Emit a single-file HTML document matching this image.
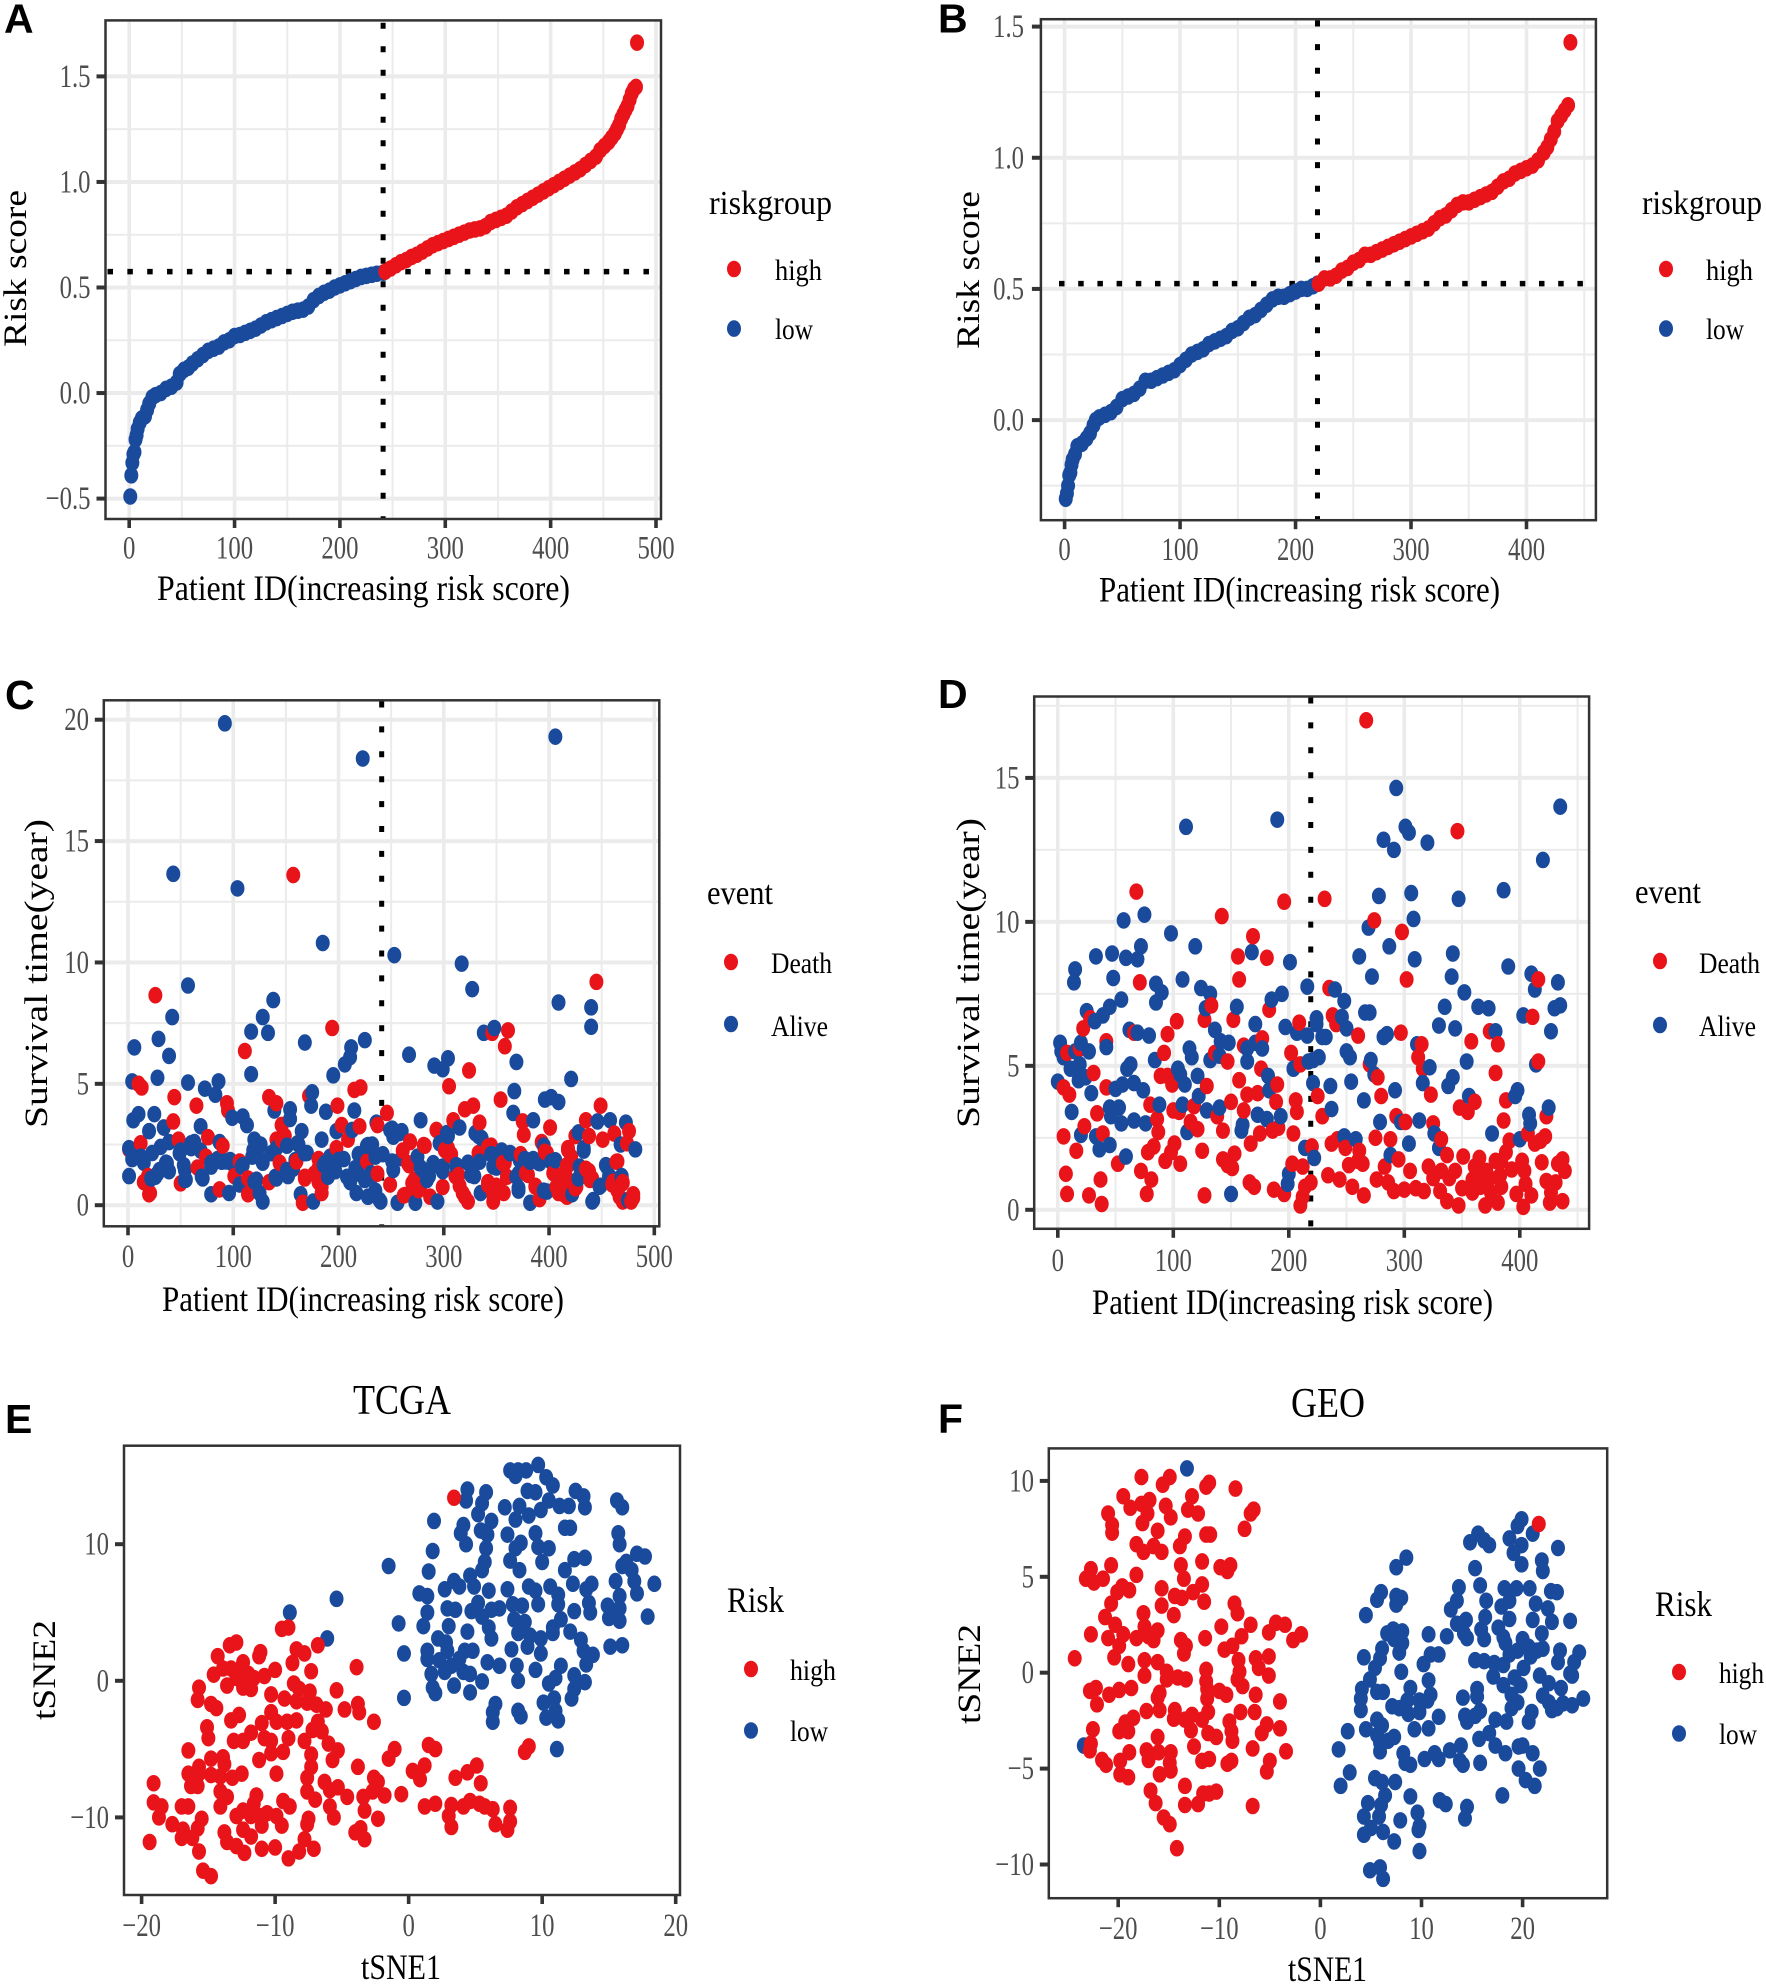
<!DOCTYPE html>
<html lang="en">
<head>
<meta charset="utf-8">
<title>Risk score, survival and tSNE panels</title>
<style>
html,body{margin:0;padding:0;background:#fff;}
svg{display:block;}
text{font-family:"Liberation Serif",serif;}
.letter{font-family:"Liberation Sans",sans-serif;font-weight:700;font-size:41px;fill:#000;}
.axt{font-size:36px;fill:#000;}
.leg{font-size:30px;fill:#000;}
.legt{font-size:34px;fill:#000;}
</style>
</head>
<body>
<svg id="figure" xmlns="http://www.w3.org/2000/svg" width="1766" height="1985" viewBox="0 0 1766 1985">
<rect x="0" y="0" width="1766" height="1985" fill="#fff"/>
<g id="plots"></g>

<text class="letter" x="4" y="32.5">A</text>
<text class="letter" x="938" y="32.5">B</text>
<text class="letter" x="5" y="709">C</text>
<text class="letter" x="938" y="708">D</text>
<text class="letter" x="5" y="1433">E</text>
<text class="letter" x="938" y="1433">F</text>

<text class="axt" x="157" y="600" textLength="413" lengthAdjust="spacingAndGlyphs">Patient ID(increasing risk score)</text>
<text class="axt" transform="translate(26,347) rotate(-90)" textLength="157" lengthAdjust="spacingAndGlyphs" style="font-size:33px">Risk score</text>
<text class="legt" x="709" y="214" textLength="123" lengthAdjust="spacingAndGlyphs">riskgroup</text>
<ellipse cx="734" cy="269" rx="7" ry="8.3" fill="#e8141a"/>
<text class="leg" x="775" y="280" textLength="47" lengthAdjust="spacingAndGlyphs">high</text>
<ellipse cx="734" cy="328.6" rx="7" ry="8.3" fill="#1a4a9c"/>
<text class="leg" x="775" y="339" textLength="38" lengthAdjust="spacingAndGlyphs">low</text>

<text class="axt" x="1099" y="601.5" textLength="401" lengthAdjust="spacingAndGlyphs">Patient ID(increasing risk score)</text>
<text class="axt" transform="translate(979,349) rotate(-90)" textLength="158" lengthAdjust="spacingAndGlyphs" style="font-size:33px">Risk score</text>
<text class="legt" x="1642" y="214" textLength="120" lengthAdjust="spacingAndGlyphs">riskgroup</text>
<ellipse cx="1666" cy="269" rx="7" ry="8.3" fill="#e8141a"/>
<text class="leg" x="1706" y="280" textLength="47" lengthAdjust="spacingAndGlyphs">high</text>
<ellipse cx="1666" cy="328.6" rx="7" ry="8.3" fill="#1a4a9c"/>
<text class="leg" x="1706" y="339" textLength="38" lengthAdjust="spacingAndGlyphs">low</text>

<text class="axt" x="162" y="1311" textLength="402" lengthAdjust="spacingAndGlyphs">Patient ID(increasing risk score)</text>
<text class="axt" transform="translate(47,1128) rotate(-90)" textLength="309" lengthAdjust="spacingAndGlyphs" style="font-size:33px">Survival time(year)</text>
<text class="legt" x="707" y="904" textLength="66" lengthAdjust="spacingAndGlyphs">event</text>
<ellipse cx="731" cy="962" rx="7" ry="8.3" fill="#e8141a"/>
<text class="leg" x="771" y="973" textLength="61" lengthAdjust="spacingAndGlyphs">Death</text>
<ellipse cx="731" cy="1024" rx="7" ry="8.3" fill="#1a4a9c"/>
<text class="leg" x="771" y="1036" textLength="57" lengthAdjust="spacingAndGlyphs">Alive</text>

<text class="axt" x="1092" y="1314" textLength="401" lengthAdjust="spacingAndGlyphs">Patient ID(increasing risk score)</text>
<text class="axt" transform="translate(979,1128) rotate(-90)" textLength="310" lengthAdjust="spacingAndGlyphs" style="font-size:33px">Survival time(year)</text>
<text class="legt" x="1635" y="903" textLength="66" lengthAdjust="spacingAndGlyphs">event</text>
<ellipse cx="1660" cy="961" rx="7" ry="8.3" fill="#e8141a"/>
<text class="leg" x="1699" y="973" textLength="61" lengthAdjust="spacingAndGlyphs">Death</text>
<ellipse cx="1660" cy="1025" rx="7" ry="8.3" fill="#1a4a9c"/>
<text class="leg" x="1699" y="1036" textLength="57" lengthAdjust="spacingAndGlyphs">Alive</text>

<text x="353" y="1414" textLength="98" lengthAdjust="spacingAndGlyphs" style="font-size:42px;fill:#000">TCGA</text>
<text class="axt" x="361" y="1979" textLength="80" lengthAdjust="spacingAndGlyphs">tSNE1</text>
<text class="axt" transform="translate(55,1720) rotate(-90)" textLength="100" lengthAdjust="spacingAndGlyphs" style="font-size:33px">tSNE2</text>
<text class="axt" x="727" y="1612" textLength="57" lengthAdjust="spacingAndGlyphs">Risk</text>
<ellipse cx="751" cy="1669" rx="7" ry="8.3" fill="#e8141a"/>
<text class="leg" x="790" y="1680" textLength="46" lengthAdjust="spacingAndGlyphs">high</text>
<ellipse cx="751" cy="1730.5" rx="7" ry="8.3" fill="#1a4a9c"/>
<text class="leg" x="790" y="1741" textLength="38" lengthAdjust="spacingAndGlyphs">low</text>

<text x="1291" y="1417" textLength="74" lengthAdjust="spacingAndGlyphs" style="font-size:42px;fill:#000">GEO</text>
<text class="axt" x="1288" y="1981" textLength="79" lengthAdjust="spacingAndGlyphs">tSNE1</text>
<text class="axt" transform="translate(980,1724) rotate(-90)" textLength="100" lengthAdjust="spacingAndGlyphs" style="font-size:33px">tSNE2</text>
<text class="axt" x="1655" y="1616" textLength="57" lengthAdjust="spacingAndGlyphs">Risk</text>
<ellipse cx="1679" cy="1672" rx="7" ry="8.3" fill="#e8141a"/>
<text class="leg" x="1719" y="1683" textLength="45" lengthAdjust="spacingAndGlyphs">high</text>
<ellipse cx="1679" cy="1733.5" rx="7" ry="8.3" fill="#1a4a9c"/>
<text class="leg" x="1719" y="1744" textLength="38" lengthAdjust="spacingAndGlyphs">low</text>
</svg>

<script>
/* ---------- Panel A: risk score curve (TCGA) ---------- */
const aLowRank = [1,2,3,4,5,6,7,8,10,12,15,17,19,22,25,30,35,40,45,48,52,56,60,65,70,75,80,85,90,95,100,105,110,115,120,125,130,135,140,145,150,155,160,165,170,175,180,185,190,195,200,205,210,215,220,225,230,235,241];
const aLowScore = [-.49,-.39,-.33,-.29,-.28,-.22,-.2,-.17,-.14,-.12,-.11,-.08,-.05,-.02,-.01,0,.02,.03,.05,.09,.11,.12,.14,.16,.18,.2,.21,.22,.24,.25,.27,.275,.285,.295,.305,.32,.335,.345,.355,.365,.375,.385,.39,.395,.41,.44,.46,.475,.485,.5,.51,.52,.53,.54,.55,.555,.56,.565,.57];
const aHighRank = [243,248,253,258,263,268,273,278,283,288,293,298,303,308,313,318,323,328,333,338,343,348,353,358,363,368,373,378,383,388,393,398,403,408,413,418,423,428,433,438,443,447,451,455,458,461,463,465,467,469,471,473,475,477,479,481,482];
const aHighScore = [.575,.59,.605,.62,.63,.645,.655,.67,.685,.7,.71,.72,.73,.74,.75,.76,.77,.775,.78,.79,.81,.82,.83,.84,.86,.88,.895,.91,.925,.94,.955,.97,.985,1.0,1.015,1.03,1.045,1.06,1.08,1.1,1.12,1.15,1.17,1.19,1.21,1.23,1.25,1.27,1.3,1.32,1.34,1.36,1.39,1.42,1.44,1.45,1.66];
const aCutRank = 241;
const aCutScore = 0.575;
const aXTicks = [0,100,200,300,400,500];
const aXMinor = [50,150,250,350,450];
const aYTicks = [-0.5,0,0.5,1,1.5];
const aYMinor = [-0.25,0.25,0.75,1.25];
const aYTickLabels = ["\u22120.5","0.0","0.5","1.0","1.5"];

/* ---------- Panel B: risk score curve (GEO) ---------- */
const bLowRank = [1,2,3,4,5,6,7,9,11,15,19,22,25,27,30,35,40,45,50,55,60,65,70,75,80,85,90,95,100,105,110,115,120,125,130,135,140,145,150,155,160,165,170,175,180,185,190,195,200,205,210,215,219];
const bLowScore = [-.3,-.28,-.25,-.21,-.2,-.17,-.15,-.13,-.1,-.09,-.07,-.05,-.02,0,.01,.02,.03,.05,.08,.09,.1,.12,.15,.15,.16,.17,.18,.19,.21,.23,.25,.26,.27,.29,.3,.31,.32,.34,.35,.37,.39,.4,.42,.44,.46,.47,.47,.48,.49,.5,.5,.51,.52];
const bHighRank = [220,225,230,235,240,245,250,255,260,265,270,275,280,285,290,295,300,305,310,315,320,325,330,335,340,345,350,355,360,365,370,375,380,385,390,395,400,405,410,415,418,421,424,427,430,433,436,438];
const bHighScore = [.52,.54,.54,.55,.57,.58,.6,.61,.63,.63,.64,.65,.66,.67,.68,.69,.7,.71,.72,.73,.75,.77,.78,.8,.82,.83,.83,.84,.85,.86,.87,.89,.91,.92,.94,.95,.96,.97,.99,1.02,1.04,1.07,1.1,1.14,1.16,1.18,1.2,1.44];
const bCutRank = 219;
const bCutScore = 0.52;
const bXTicks = [0,100,200,300,400];
const bXMinor = [50,150,250,350,450];
const bYTicks = [0,0.5,1,1.5];
const bYMinor = [-0.25,0.25,0.75,1.25];
const bYTickLabels = ["0.0","0.5","1.0","1.5"];

/* ---------- Panel C: survival (TCGA) ---------- */
const cDeathId = [26,157,445,194,111,346,361,358,324,305,10,13,44,65,94,95,134,141,172,199,215,221,354,449,320,328,246,43,34,146,220,203,237,309,334,375,401,435,293,376,438,462,476,451,474,48,12,76,90,141,149,209,268,282,393,425,1,198,304,345,333,418,261,307,398,373,74,421,66,106,144,160,181,227,267,358,465,435,380,417,15,19,20,50,87,101,114,114,134,168,166,177,181,184,237,249,262,272,278,299,287,311,315,320,323,342,347,350,357,387,391,406,414,409,417,425,441,438,460,470,470,478,480,465,272,417,18,21,181,184,168,146,146,268,281,270,276,263,266,301,306,314,318,342,342,347,355,356,360,378,387,396,404,407,412,417,418,418,426,436,439,464,461,470,467,480];
const cDeathYears = [8.65,13.6,9.2,7.3,6.35,7.1,7.2,6.55,5.55,4.9,5,4.85,4.45,4.1,4.2,3.9,4.45,4.2,4.5,4.1,4.75,4.85,4.35,4.1,3.95,4.1,3.8,3.45,3.2,3.3,3.25,3.3,3.3,3.5,3.4,3.45,3.2,3.5,3.1,2.9,2.85,2.95,3.05,2.7,2.55,2.7,2.55,2.8,2.45,2.7,2.85,2.7,2.6,2.45,2.6,2.85,2.3,2.35,2.35,2.45,2.15,2.35,2.25,2.1,2.15,2.1,2,2,1.55,1.8,1.75,1.8,1.9,1.8,1.65,1.75,1.8,1.5,1.25,1.65,.95,1.2,.45,.9,.65,1.2,1.1,.45,.95,1.1,.1,1.3,.95,.5,1.3,.85,.4,1.05,.8,.75,.35,1.2,.8,.35,.15,.95,.15,.8,.5,.8,.25,1.3,.45,.5,1.1,.7,1.1,1.4,.85,.95,.15,.15,.45,.6,.6,.35,1.04,.5,1.53,.76,1.17,3.3,2.69,2.62,2.48,.91,.62,.42,1.73,2.27,2.07,1.24,.5,2.41,.83,.42,.56,1.73,1.17,1.32,.76,2.2,1.32,.76,.5,1.59,2.27,.62,.76,1.45,1.04,1.79,.97,.91,.35,.3];
const cAliveId = [92,223,406,43,104,185,253,317,327,57,138,42,128,117,133,29,6,39,168,225,212,211,206,267,291,299,304,338,348,369,409,440,440,421,28,4,57,86,73,83,117,195,175,174,154,188,215,367,366,396,402,409,139,5,10,25,69,99,109,113,20,34,154,165,184,198,213,236,251,260,278,315,304,385,428,446,458,473,333,1,4,1,12,23,15,31,39,22,28,36,39,50,63,60,69,53,55,71,79,85,87,93,98,79,96,109,106,118,120,126,141,128,122,125,128,151,152,141,157,162,170,164,176,186,192,197,205,211,217,219,219,227,232,228,235,232,242,240,256,251,275,273,278,286,291,294,299,312,323,329,335,345,350,355,363,371,371,377,385,390,382,395,395,406,422,428,433,441,449,454,457,468,469,482,10,26,37,30,49,54,60,54,70,79,89,97,108,119,120,127,136,151,140,168,161,159,187,190,200,208,216,225,228,235,231,228,239,280,290,299,284,312,325,334,347,355,363,372,382,391,402,369,371,326,398,258,249,252,260,252,296,303,330,336,429,433,455,458,469,442,448,475];
const cAliveYears = [19.85,18.4,19.3,13.65,13.05,10.8,10.3,9.95,8.9,9.05,8.45,7.75,7.75,7.15,7.1,6.85,6.5,6.15,6.7,6.8,6.5,6.1,5.8,6.2,5.75,5.6,6.05,7.1,7.3,5.9,8.35,8.15,7.35,5.2,5.25,5.1,5.05,5.1,4.8,4.55,5.4,5.35,4.65,4.1,3.95,3.85,3.9,4.7,3.8,4.35,4.45,4.25,3.9,3.5,3.75,3.75,3.25,3.6,3.65,3.3,3.05,3.2,3.55,3.05,2.7,3.05,3.1,3.4,3.15,3.05,3.5,3.2,2.85,3.5,3,3.45,3.5,3.4,2.85,2.35,1.9,1.2,2,2.15,1.75,2.4,2.6,1.1,1.3,1.75,1.4,2.25,2.6,2.35,2.25,1.65,1.05,1.1,1.75,1.9,2.6,1.8,1.75,.45,.5,1.65,.85,2,2.7,2.5,2.35,1.75,1.05,.5,.15,2.45,1.2,1.1,1.5,2.5,2.15,.45,.15,1.65,2,1.4,1.9,.95,.5,1.3,2.1,2.45,2.5,.35,.6,1.2,2.1,.15,.1,1.8,2,.1,1.55,1.2,1.65,.15,1.4,1.65,1.75,1.2,.5,2.1,1.55,2.25,2.15,.6,1.3,1.9,1.9,1.75,.1,2.45,.6,1.85,.45,1.1,2.25,.15,.8,1.65,1.2,2.5,1.2,2.3,2,1.17,1.73,1.45,2.14,1.45,2.55,1.04,1.17,1.59,1.79,1.86,1.59,2.27,.97,1.86,2.14,1.45,1.17,2.14,2.55,1.86,1.73,1.17,1.86,1.17,1.53,1.04,2.48,2,1.32,.35,.21,1.45,1.73,1.59,1.04,1.59,1.66,1.79,1.59,2.2,2.14,1.86,1.79,1.73,1.79,1.17,.71,1.24,.56,2.97,3.1,2.82,1.94,1.45,2.55,2.97,2.97,2.76,1.59,2.35,1.59,1.17,1.17,.21,.76,.21];
const cCutRank = 241;
const cXTicks = [0,100,200,300,400,500];
const cXMinor = [50,150,250,350,450];
const cYTicks = [0,5,10,15,20];
const cYMinor = [2.5,7.5,12.5,17.5];
const cYTickLabels = ["0","5","10","15","20"];

/* ---------- Panel D: survival (GEO) ---------- */
const dDeathId = [267,346,68,196,231,142,274,298,169,156,181,157,71,302,235,416,133,183,238,241,209,127,152,103,411,22,28,66,95,260,297,374,177,42,358,161,315,381,19,8,92,136,202,312,147,210,416,270,316,31,89,95,176,379,277,157,5,10,42,99,129,190,164,173,280,323,225,388,150,80,118,189,206,361,348,355,34,100,105,207,161,138,229,293,301,423,86,386,325,115,23,87,39,121,143,186,191,175,204,5,275,288,332,242,237,407,422,418,413,391,167,101,16,83,125,153,78,220,388,93,98,106,143,147,151,249,261,260,252,264,295,337,351,365,379,384,419,437,433,203,212,52,7,72,37,81,305,321,283,344,332,361,371,393,402,404,439,8,27,38,77,127,166,170,187,196,214,210,212,219,234,244,255,265,276,286,291,300,310,317,325,331,337,347,339,350,359,366,370,375,381,384,397,403,410,405,426,423,431,427,437,366,374,359,383];
const dDeathYears = [17,13.15,11.05,10.7,10.8,10.2,10.05,9.65,9.5,8.8,8.75,8,7.9,8,7.7,8,7.1,6.95,6.75,6.45,6.5,6.6,6.6,6.55,6.7,6.3,6.65,6.15,6.1,6.05,6.15,6.2,5.95,5.85,5.85,5.7,5.75,5.75,5.6,5.45,5.45,5.45,5.45,5.3,5.15,5.05,5.15,5.05,4.9,4.75,4.65,4.65,4.9,4.75,4.6,4.5,4.25,4,4.25,4.35,4.3,4.35,4,4.05,3.95,4,3.95,3.8,3.75,3.65,3.6,3.75,3.8,3.75,3.55,3.4,3.35,3.45,3.4,3.4,3.45,3.25,3.25,3.25,3.05,3.25,3.15,3.1,3,3.05,2.9,2.7,2.65,2.8,2.75,2.75,2.85,2.65,2.65,2.55,2.5,2.45,2.45,2.45,2.3,2.65,2.55,2.4,2.3,2.4,2.3,2.3,2.05,2.2,2.05,1.95,2,2.2,2,1.7,2,1.6,1.75,1.55,1.45,2.15,2.05,1.7,1.55,1.6,1.75,1.9,1.85,1.8,1.7,1.7,1.65,1.75,1.6,1.6,1.5,1.6,1.25,1.35,1.05,1.05,1.35,1.5,1.5,1.35,1.35,1.5,1.35,1.4,1.7,1.35,1.35,.55,.5,.2,.55,.5,.95,.8,.7,.55,.8,.15,.45,.95,1.2,1.05,.8,.5,1.05,.95,.65,.7,.75,.65,1.1,.65,.3,.15,1.1,.75,.6,.8,.15,.6,.25,.8,.55,.1,.5,.9,.25,1,.95,.6,.3,1.2,1.1,1.05,1.2];
const dAliveId = [293,435,111,190,301,304,282,320,291,420,386,278,306,347,308,269,57,75,98,119,287,261,309,342,168,33,47,59,69,72,201,15,14,48,108,272,341,390,410,413,433,216,240,248,55,85,90,85,124,132,128,185,194,155,171,266,270,246,250,352,335,364,373,430,435,330,344,403,427,379,2,25,32,39,45,62,69,79,136,141,148,197,207,216,224,224,229,232,282,285,311,3,5,20,15,27,42,84,114,116,132,140,164,164,171,177,250,253,217,221,226,271,322,354,414,0,11,19,18,24,29,50,56,60,63,66,74,104,106,110,121,122,204,182,183,254,236,221,274,316,292,342,338,396,398,356,265,12,45,53,46,55,66,76,88,108,129,140,173,181,193,160,159,112,237,279,297,313,326,376,408,409,425,400,20,33,36,45,59,214,222,248,258,304,330,288,200,199,150];
const dAliveYears = [14.65,14,13.3,13.55,13.3,13.1,12.85,12.75,12.5,12.15,11.1,10.9,11,10.8,10.1,9.8,10.05,10.25,9.6,9.15,9.15,8.8,8.7,8.9,8.95,8.8,8.9,8.75,8.7,9.15,8.6,8.35,7.9,8.05,8,8.1,8.1,8.45,8.2,7.65,7.9,7.75,7.65,7.25,7.3,7.85,7.55,7.2,7.7,7.5,7,7.3,7.5,7.05,6.45,6.85,6.85,6.7,6.3,7.55,7.05,7.05,7,7,7.1,6.4,6.3,6.75,6.2,6.2,5.8,6.9,6.55,6.75,7.05,6.25,6.15,6.05,6.25,5.85,5.8,6.35,6.15,6.05,6.65,6.45,6,6,6,6.1,5.75,5.5,5.3,5.8,5.5,5.5,5.65,5.2,5.6,5.3,5.2,5.35,5.6,5.15,5.8,5.6,5.5,5.3,5.15,5.2,5.3,5.2,4.95,5.15,5.05,4.45,4.9,5.05,4.5,4.6,4.05,4.2,4.35,4.9,5.05,4.4,4.15,4.9,4.7,4.35,4.65,3.95,4.9,4.65,4.15,4.45,4.3,4.4,4.7,4.4,4.15,4.6,4.3,3.95,4.15,3.95,3.8,3.4,3.55,3.55,3.25,3,3.1,3,3.65,3.65,3.45,3.55,3.3,3.15,3.25,2.95,2.75,2.7,3.5,3.05,3.05,3.1,2.65,2.65,3.3,3,3.55,2.45,2.6,2.55,2.1,2.25,1.85,2.15,1.8,2.55,2.45,2.3,2.15,1.9,1.25,.9,.55];
const dCutRank = 219;
const dXTicks = [0,100,200,300,400];
const dXMinor = [50,150,250,350,450];
const dYTicks = [0,5,10,15];
const dYMinor = [2.5,7.5,12.5,17.5];
const dYTickLabels = ["0","5","10","15"];

/* ---------- Panel E: tSNE (TCGA) ---------- */
const eHighX = [3.4,-9.5,-9,-6.8,-13.4,-12.9,-14.3,-11.1,-11.2,-8.4,-7.8,-8.7,-7.3,-3.9,-14.6,-13.9,-13.3,-12.4,-12.7,-12,-11.6,-10.8,-10,-13.6,-12.4,-11.8,-12.9,-15.7,-15.8,-14.8,-14.4,-10.3,-9.3,-8.6,-8.2,-7.4,-8.4,-7.6,-6.9,-6.2,-5.4,-4.8,-3.8,-3.7,-2.6,-12.7,-13.3,-10.3,-11,-9.9,-9.1,-8.4,-6.8,-7.2,-6.5,-15.1,-15,-13.1,-12.4,-11.8,-10.8,-10.3,-10.3,-9,-7.8,-9.4,-11.2,-7.3,-6,-5.3,-5.7,-16.5,-14.8,-13.9,-13.8,-15.7,-16.5,-15.7,-14.8,-14.1,-13.2,-12.5,-16.3,-15.8,-14.1,-13.6,-14.1,-19.1,-19.1,-18.5,-18.7,-17.7,-17,-16.5,-16.9,-17,-16.2,-15.5,-15.8,-19.4,-15.7,-15.4,-14.8,-11.4,-11.6,-9.9,-9.4,-8.9,-12.9,-12.4,-11.8,-11,-10.6,-9.9,-9.5,-11,-12.4,-11.8,-13.8,-13.6,-12.9,-12.3,-11,-10,-9,-8.2,-7.1,-7.8,-7.6,-7.5,-7.3,-7.6,-7.6,-7,-6.3,-5.9,-5.3,-4.6,-5.9,-5.6,-3.4,-3.3,-2.7,-2.3,-1.8,-3.8,-2.6,-2.3,-4,-3.6,-3.3,-1.5,-1.05,-.55,.3,.85,1.2,1.5,2,1.2,2,3.5,4.4,5.1,5.4,3.2,3,3.2,4.1,4.6,5.3,5.7,6.3,6.5,7.4,7.6,7.6,8.7,9];
const eHighY = [13.4,3.8,3.9,2.6,2.6,2.8,1.8,2.1,1.8,2.3,2,1.3,.7,1,.45,.9,.9,1.35,.8,.5,.2,.35,.8,-.35,-.5,-.6,.2,-.5,-1.4,-1.7,-2,-1,-1.3,-.2,-.6,-.8,-1.5,-1.6,-1.75,-2.1,-.7,-2.1,-1.7,-2.3,-3,-2.5,-2.9,-2.3,-3.1,-3,-3,-2.9,-3,-3.6,-3.7,-3.4,-4.2,-4.4,-4.4,-3.8,-4.2,-4.4,-5.3,-4.2,-4.4,-5.2,-5.8,-5.4,-4.6,-5.1,-5.8,-5.1,-5.7,-5.6,-6.1,-6.3,-6.8,-6.8,-6.9,-7,-7.1,-6.8,-7.7,-7.7,-8.1,-8.5,-9.2,-7.5,-8.9,-9.2,-10,-10.5,-9.2,-9.2,-10.9,-11.5,-11.5,-10.1,-10.8,-11.8,-12.5,-13.9,-14.3,-8.4,-9,-6.8,-8.8,-9.2,-9.9,-9.5,-9.9,-9.9,-9.7,-9.9,-10.6,-10.6,-10.9,-11.4,-11.1,-11.8,-12.1,-12.6,-12.3,-12.2,-13,-12.5,-12.3,-11.6,-10.5,-10.1,-6.3,-7.1,-8.1,-8.7,-7.4,-8,-7.8,-8.5,-9.2,-10,-8.5,-9.5,-8.1,-7.4,-8.4,-6.3,-7.1,-10.1,-11.1,-10.8,-11.6,-5.7,-5,-8.3,-6.6,-7.2,-6.2,-4.7,-5,-9.2,-9,-7.1,-6.7,-6.2,-7.5,-9.1,-9.9,-10.7,-9.2,-8.8,-9,-9.2,-9.4,-10.5,-10.9,-10.3,-9.3,-5.2,-4.8];
const eLowX = [-1.5,-5.4,-8.9,-6.1,-.75,-.35,-.35,1.9,1.8,1.5,.8,1.4,1.4,1.1,4.4,4.3,5.8,5.5,5.2,6.2,7.2,4.1,3.9,5.4,4.3,5.9,5.8,7.6,8.2,8.8,9.7,10.3,10.8,8,8.9,9.5,8.3,8,9,9.9,10.5,11.3,12.5,13.1,13.2,12,11.7,12.1,15.6,16,15.7,15.8,7.4,9.5,8.4,8,9.7,10.5,10,7.6,8.3,11.7,12.4,13.2,17.1,17.7,16.3,16,16.7,16.9,15.5,17.1,18.4,15.8,17.9,14.9,15,15.8,15.8,15.1,16,5.7,4.6,5.5,4.9,3.8,3.4,2.7,2.9,3.5,6,7.4,9,9.5,10.6,11.2,11.2,12.3,13.3,13.7,13.5,13.6,12.4,9.7,4.7,5.2,5.5,6.2,6.8,7.8,8.5,7.9,8.7,3,4.4,6,6.2,8.2,9.1,9.9,10.8,11.4,12.1,10.8,2.2,2.8,1.4,1.4,2.9,4.2,4.8,3.8,2.3,3.2,2.7,1.7,4.1,4.6,5.9,6.8,7.7,8.9,9.9,8.1,9.5,8.2,10.5,11.4,11,12.4,13.2,12.9,13.1,13.8,13.3,12.4,12.2,1.8,2,3.4,4.6,5.5,6.5,6.3,6.3,8.2,8.4,10.1,10.9,10.3,11,11.2,11.1];
const eLowY = [8.4,6,5,3.1,4.2,2,-1.25,11.7,9.5,8,6.4,6.2,5,4,14,13.2,13.8,13,12.2,11.7,12.7,11.4,10.8,11,10,10.7,9.7,15.4,15.4,15.4,15.8,14.9,14.3,15,13.9,13.8,12.8,11.8,12.1,12.5,13.2,12.8,13.9,13.5,12.7,12.8,11.2,11.2,13.2,12.7,10.8,10,10.7,10.8,10.1,9.7,9.8,9.7,8.7,8.8,8.1,8.1,8.9,9,9.3,9.1,8.7,8.4,8.1,7.3,7.3,6.4,7.1,6.2,4.7,5.5,4.6,5.3,4.4,2.5,2.6,8.7,7.7,8.1,6.9,6.9,7.3,6.7,5.3,5.2,6.6,6.7,6.9,6.6,6.9,6.3,5.6,7.1,6.7,7.1,5.7,5,5.1,5.6,5.1,5.7,4.7,5.2,5.3,5.6,5.5,4.5,4.3,4,3.6,3.9,3.1,3.5,3.3,3.1,3.9,4.5,3.6,3.5,3.1,2.8,2.2,1.6,2.2,2.2,2.2,1.6,1.5,1.1,.65,.5,.65,.5,1.35,1.1,2.3,2.5,2,1.1,.8,0,-.2,1.1,.2,.4,-.1,3,2.2,1.9,1.2,-.6,-1.3,-.5,-.9,-.35,-.85,-.05,-1.7,-2.3,-3,-2.2,-2.6,-1.6,-1.3,-2.7,-2.2,-2.9,-5];
const eXTicks = [-20,-10,0,10,20];
const eYTicks = [-10,0,10];
const eXTickLabels = ["\u221220","\u221210","0","10","20"];
const eYTickLabels = ["\u221210","0","10"];

/* ---------- Panel F: tSNE (GEO) ---------- */
const fHighX = [21.6,-17.7,-15.6,-14.9,-11.3,-11,-8.4,-19.5,-18.8,-21,-20.6,-20.6,-17.7,-16.9,-17.1,-17.6,-16.1,-15.3,-14.8,-12.7,-13.1,-12.1,-6.9,-6.6,-7.5,-11.3,-10.9,-13.4,-13.9,-18.2,-17.5,-16.5,-15.7,-20.7,-22.7,-23.2,-22.4,-21.5,-18.2,-13.8,-13.5,-11.7,-11.7,-9.9,-8.9,-9.2,-20.1,-19.6,-18.9,-20.7,-21.3,-15.7,-14.4,-13.7,-12.6,-11.5,-15.7,-14.5,-17.5,-8.5,-8.2,-22.7,-20.3,-21,-19.5,-19.9,-20.4,-18.2,-17.4,-17,-16.1,-16.5,-13.8,-13.3,-13.5,-11.4,-9.8,-9.5,-8.7,-7.8,-6.9,-8.1,-5.1,-4.4,-3.5,-2.7,-1.9,-24.3,-6.4,-5.1,-19,-17.4,-16.1,-17.4,-15.2,-15.2,-14.1,-13.3,-11.3,-11.3,-8,-8.2,-6.1,-5.1,-7.7,-18.7,-19.9,-20.9,-22.8,-22.2,-22.1,-15.9,-16.1,-11.2,-10,-9.3,-11.2,-6.4,-4,-17.2,-15.9,-18.5,-19.3,-19,-19.9,-14.4,-14.5,-13.4,-12.7,-11.1,-11.7,-12.8,-11.1,-10.3,-7.9,-6.5,-9,-8.8,-8.7,-5.3,-5.8,-4,-22.5,-22.7,-22.8,-16.1,-12.5,-18.9,-17.2,-17,-16,-14.8,-14.9,-21.6,-21.2,-19.8,-19.8,-19,-15.9,-14.8,-11.7,-11,-9.2,-8.8,-6.7,-3.4,-5,-5.3,-16.8,-16.3,-13.4,-13.4,-12.1,-11.6,-11,-10.3,-6.7,-15.5,-14.9,-14.2];
const fHighY = [7.75,10.2,9.8,10.2,9.7,9.9,9.6,9.2,8.6,8.3,7.7,7.3,8.8,9,8.3,7.8,7.4,8.7,8.1,9.2,8.5,8.3,8.3,8.5,7.5,7.2,7.2,7.1,6.6,6.7,6.3,6.6,6.3,5.6,5.4,4.9,4.7,4.9,5.1,5.6,4.9,5.8,4.6,5.5,5.6,5.3,4.2,4.5,4.3,3.6,2.9,4.4,4,3.9,4.2,3.7,3.5,3,3.1,3.6,3.1,2,2.5,1.8,2,1.4,.8,1.8,2.4,1.9,2.2,1.7,1.7,1.4,1,1.8,2.4,1.2,1.4,1.9,2.5,.65,2.1,2.6,2.5,1.7,2,.75,.75,.85,.45,.65,.55,-.15,.05,-.35,-.25,-.35,.15,-.45,.05,-.35,.25,-.15,-.7,-.8,-.9,-1.15,-.95,-.8,-1.65,-1.05,-1.3,-.85,-.95,-1.15,-1.35,-1.15,-1.5,-2,-1.95,-2.35,-2.6,-3.05,-3.05,-1.95,-2.4,-2.45,-2.2,-2.05,-2.45,-3,-3.15,-3.35,-2.05,-2.05,-2.55,-3.05,-3.55,-2.7,-3.15,-2.9,-2.95,-3.7,-4.05,-3.35,-3.85,-4.15,-4.05,-4.55,-4.15,-4.15,-4.7,-4.55,-4.8,-4.6,-5.3,-5.45,-5.3,-5.1,-4.6,-4.5,-4.75,-4.6,-3.95,-4.1,-4.6,-5.15,-6.15,-6.8,-5.9,-6.9,-6.85,-6.3,-6.3,-6.2,-6.95,-7.55,-7.9,-9.15];
const fLowX = [-13.2,-23.4,21,19.9,19.5,18.7,19.1,19.9,19.9,23.5,21.9,22,14.8,15.6,16.2,16.7,15.3,15.8,13.7,13.5,12.9,16.4,16.3,14.4,13.5,15.9,16.2,14.2,14.5,12.5,18.2,19.4,17.9,18.7,20.7,21.3,22.5,22.8,23.4,22.9,24.7,18.7,21,17.6,18.1,21.9,18.3,20,19.5,20.6,21.4,22,18.7,20.8,23.7,23.5,25.6,25.1,24.7,24.9,15.3,16.2,17.2,18.1,20.1,17.1,19.2,21.7,18.1,19.8,22.6,23.8,26,24.9,24,22,22.6,22.9,23.4,15.5,15.5,14.1,18.9,19.5,14.3,14.5,15.8,15.3,18.9,17.3,18.4,20.9,20.6,16.7,15.7,17.3,18.3,20,19.6,21,15.8,13.8,14.1,13.9,12.8,11.3,11.7,10.3,19.6,20.3,21.2,21.7,18,11.8,12.4,14.5,14.3,8.5,7.5,6,5.6,7.5,8,7.5,4.5,7.2,6.6,8.1,7.3,8.1,6.1,7.8,4.3,5.9,5.4,8,10.7,11.7,10.9,10.2,10.7,4.9,4.1,4,4,5.6,6.2,7.1,7.8,8.9,8.6,8.7,9.8,10.6,10.9,9.8,11.7,10.7,9.3,4.5,2.7,5.6,6.1,5.6,5.9,7.3,6.7,5.9,1.8,8.2,8.4,8.9,2.9,2,5.4,6.1,7.4,6.4,4.7,6,8.9,4.3,5.8,7.9,9.6,9.8,9.7,4.3,5,6.2,7.3,9.8,4.9,5.9,6.2];
const fLowY = [10.65,-3.8,7.25,8,7.65,7,6.25,6.65,5.65,6.5,5.85,5.3,6.8,7.25,6.9,6.65,5.45,4.55,4.45,3.75,3.3,3.75,2.9,2.75,2.55,2.25,1.75,2.05,1.8,1.9,4.4,4.4,3.45,3.75,4.4,3.6,3.35,4.25,4.2,2.65,2.7,2.8,2.75,2.35,1.85,2.05,1.55,1.75,1.15,1.35,1.15,1.25,.95,.85,1.15,.55,1.05,.55,-.05,-.15,.65,.6,.5,.4,.25,-.2,-.25,-.15,-.65,-.65,-.55,-.8,-1.35,-1.7,-1.6,-1.2,-1.55,-1.95,-1.85,-.85,-1.25,-1.3,-1.15,-1.55,-2.25,-2.55,-2,-2.25,-1.85,-2.45,-2.55,-2.05,-2.55,-3.15,-3.45,-3.8,-4.2,-3.8,-3.85,-4.2,-4.7,-4.6,-4.8,-3.8,-4.05,-4.2,-4.5,-4.5,-5,-5.6,-5.9,-5,-6.4,-6.65,-6.85,-7,-7.6,6,5.5,4.2,3.8,4,3.9,3.55,3,2.25,2.05,2.15,1.75,1.55,1.25,1.05,.8,.75,.25,.05,2,.95,.95,.45,-.4,-.35,-.85,-1.35,-1.95,-1,-1,-1.75,-1.85,-.8,-1.45,-2.15,-1.45,-1.45,-1.15,-2.05,-2.3,-2.9,-2.95,-2.95,-3.05,-2.45,-2.75,-3.25,-3.65,-3.35,-3.55,-4.1,-4,-4.2,-4.7,-4.8,-5.2,-5.9,-5.5,-5.7,-5.7,-6.4,-6.8,-6.9,-6.45,-7.5,-7.5,-7.7,-7.3,-8,-8.2,-8.45,-8.1,-8.3,-8.8,-9.3,-10.3,-10.15,-10.75];
const fXTicks = [-20,-10,0,10,20];
const fYTicks = [-10,-5,0,5,10];
const fXTickLabels = ["\u221220","\u221210","0","10","20"];
const fYTickLabels = ["\u221210","\u22125","0","5","10"];

/* ---------- Drawing ---------- */
const NS = "http://www.w3.org/2000/svg";
const RED = "#e8141a";
const BLUE = "#1a4a9c";
const plots = document.getElementById("plots");

function make(tag, attrs, name, parent) {
  const el = document.createElementNS(NS, tag);
  for (const k in attrs) el.setAttribute(k, attrs[k]);
  
  
  parent.appendChild(el);
  return el;
}
function linear(d0, d1, p0, p1) {
  return function (v) { return p0 + (v - d0) * (p1 - p0) / (d1 - d0); };
}
function drawPoint(g, sx, sy, x, y, color, name) {
  make("ellipse", { cx: sx(x), cy: sy(y), rx: 7, ry: 8.3, fill: color }, name, g);
}
function drawFrame(g, box, key) {
  make("rect", { x: box.l, y: box.t, width: box.r - box.l, height: box.b - box.t, fill: "none", stroke: "#333", "stroke-width": 2.5 }, key + "-panel-border", g);
}
function drawGrid(g, box, sx, sy, xTicks, xMinor, yTicks, yMinor, key) {
  xMinor.forEach(function (v) {
    make("line", { x1: sx(v), x2: sx(v), y1: box.t, y2: box.b, stroke: "#ebebeb", "stroke-width": 2 }, key + "-grid-x-minor", g);
  });
  yMinor.forEach(function (v) {
    if (sy(v) > box.t && sy(v) < box.b) make("line", { x1: box.l, x2: box.r, y1: sy(v), y2: sy(v), stroke: "#ebebeb", "stroke-width": 2 }, key + "-grid-y-minor", g);
  });
  xTicks.forEach(function (v) {
    make("line", { x1: sx(v), x2: sx(v), y1: box.t, y2: box.b, stroke: "#ebebeb", "stroke-width": 3.6 }, key + "-grid-x-major", g);
  });
  yTicks.forEach(function (v) {
    make("line", { x1: box.l, x2: box.r, y1: sy(v), y2: sy(v), stroke: "#ebebeb", "stroke-width": 4 }, key + "-grid-y-major", g);
  });
}
function drawAxes(g, box, sx, sy, xTicks, xLabels, yTicks, yLabels, layout, key) {
  xTicks.forEach(function (v, i) {
    make("line", { x1: sx(v), x2: sx(v), y1: box.b, y2: box.b + 9, stroke: "#333", "stroke-width": 3.6 }, key + "-x-tick", g);
    const t = make("text", { transform: "translate(" + sx(v) + "," + layout.xBase + ") scale(0.75,1)", "text-anchor": "middle", fill: "#4d4d4d", "font-size": 33 }, key + "-x-tick-label", g);
    t.textContent = xLabels[i];
  });
  yTicks.forEach(function (v, i) {
    make("line", { x1: box.l - 9, x2: box.l, y1: sy(v), y2: sy(v), stroke: "#333", "stroke-width": 4 }, key + "-y-tick", g);
    const t = make("text", { transform: "translate(" + layout.yRight + "," + (sy(v) + 10.5) + ") scale(0.75,1)", "text-anchor": "end", fill: "#4d4d4d", "font-size": 33 }, key + "-y-tick-label", g);
    t.textContent = yLabels[i];
  });
}
function refV(g, box, px, start, period, key) {
  make("line", { x1: px, x2: px, y1: start, y2: box.b, stroke: "#000", "stroke-width": 5, "stroke-dasharray": "6 " + (period - 6) }, key + "-cutoff-vertical", g);
}
function refH(g, box, py, start, period, key) {
  make("line", { x1: start, x2: box.r - 4, y1: py, y2: py, stroke: "#000", "stroke-width": 5.5, "stroke-dasharray": "5.5 " + (period - 5.5) }, key + "-cutoff-horizontal", g);
}

/* A */
(function () {
  const g = make("g", {}, "panel-a", plots);
  const box = { l: 105.5, r: 661, t: 20.4, b: 519 };
  const sx = linear(0, 500, 129.2, 656);
  const sy = linear(-0.5, 1.5, 498.6, 76.4);
  drawGrid(g, box, sx, sy, aXTicks, aXMinor, aYTicks, aYMinor, "a");
  refV(g, box, sx(aCutRank), 22.8, 23.5, "a");
  refH(g, box, sy(aCutScore), 107.5, 19.85, "a");
  aLowRank.forEach(function (r, i) { drawPoint(g, sx, sy, r, aLowScore[i], BLUE, "a-point-low"); });
  aHighRank.forEach(function (r, i) { drawPoint(g, sx, sy, r, aHighScore[i], RED, "a-point-high"); });
  drawFrame(g, box, "a");
  drawAxes(g, box, sx, sy, aXTicks, aXTicks.map(String), aYTicks, aYTickLabels, { xBase: 558.5, yRight: 90.5 }, "a");
})();

/* B */
(function () {
  const g = make("g", {}, "panel-b", plots);
  const box = { l: 1040.9, r: 1595.9, t: 19.2, b: 520.2 };
  const sx = linear(0, 400, 1064.6, 1526.5);
  const sy = linear(0, 1.5, 420.1, 26.6);
  drawGrid(g, box, sx, sy, bXTicks, bXMinor, bYTicks, bYMinor, "b");
  refV(g, box, sx(bCutRank), 20.5, 23.6, "b");
  refH(g, box, sy(bCutScore), 1059, 19.2, "b");
  bLowRank.forEach(function (r, i) { drawPoint(g, sx, sy, r, bLowScore[i], BLUE, "b-point-low"); });
  bHighRank.forEach(function (r, i) { drawPoint(g, sx, sy, r, bHighScore[i], RED, "b-point-high"); });
  drawFrame(g, box, "b");
  drawAxes(g, box, sx, sy, bXTicks, bXTicks.map(String), bYTicks, bYTickLabels, { xBase: 560, yRight: 1024 }, "b");
})();

function drawSurvival(key, box, sx, sy, deathId, deathYears, aliveId, aliveYears, xT, xM, yT, yM, yL, cut, dashStart, layout) {
  const g = make("g", {}, "panel-" + key, plots);
  drawGrid(g, box, sx, sy, xT, xM, yT, yM, key);
  refV(g, box, sx(cut), dashStart, 24.9, key);
  const all = [];
  deathId.forEach(function (r, i) { all.push({ r: r, y: deathYears[i], c: RED, n: key + "-point-death" }); });
  aliveId.forEach(function (r, i) { all.push({ r: r, y: aliveYears[i], c: BLUE, n: key + "-point-alive" }); });
  all.sort(function (a, b) { return a.r - b.r; });
  all.forEach(function (p) { drawPoint(g, sx, sy, p.r, p.y, p.c, p.n); });
  drawFrame(g, box, key);
  drawAxes(g, box, sx, sy, xT, xT.map(String), yT, yL, layout, key);
}

/* C */
drawSurvival("c", { l: 103.8, r: 659.3, t: 700.3, b: 1226.3 }, linear(0, 500, 128, 654.3), linear(0, 20, 1205.2, 719.7),
  cDeathId, cDeathYears, cAliveId, cAliveYears, cXTicks, cXMinor, cYTicks, cYMinor, cYTickLabels, cCutRank, 701.5, { xBase: 1267, yRight: 89 });

/* D */
drawSurvival("d", { l: 1034.2, r: 1589.1, t: 696.5, b: 1228.8 }, linear(0, 400, 1057.8, 1519.8), linear(0, 15, 1209.8, 777.9),
  dDeathId, dDeathYears, dAliveId, dAliveYears, dXTicks, dXMinor, dYTicks, dYMinor, dYTickLabels, dCutRank, 697.5, { xBase: 1271, yRight: 1019.5 });

function drawTsne(key, box, sx, sy, lowX, lowY, highX, highY, xT, xL, yT, yL, layout) {
  const g = make("g", {}, "panel-" + key, plots);
  lowX.forEach(function (x, i) { drawPoint(g, sx, sy, x, lowY[i], BLUE, key + "-point-low"); });
  highX.forEach(function (x, i) { drawPoint(g, sx, sy, x, highY[i], RED, key + "-point-high"); });
  drawFrame(g, box, key);
  drawAxes(g, box, sx, sy, xT, xL, yT, yL, layout, key);
}

/* E */
drawTsne("e", { l: 124, r: 680, t: 1445.7, b: 1895 }, linear(-20, 20, 141.6, 675.7), linear(-10, 10, 1817.4, 1544.2),
  eLowX, eLowY, eHighX, eHighY, eXTicks, eXTickLabels, eYTicks, eYTickLabels, { xBase: 1936, yRight: 109 });

/* F */
drawTsne("f", { l: 1048.8, r: 1607.2, t: 1448.4, b: 1898.2 }, linear(-20, 20, 1118.2, 1522.6), linear(-10, 10, 1864.5, 1480.9),
  fLowX, fLowY, fHighX, fHighY, fXTicks, fXTickLabels, fYTicks, fYTickLabels, { xBase: 1939, yRight: 1034 });
</script>
</body>
</html>
